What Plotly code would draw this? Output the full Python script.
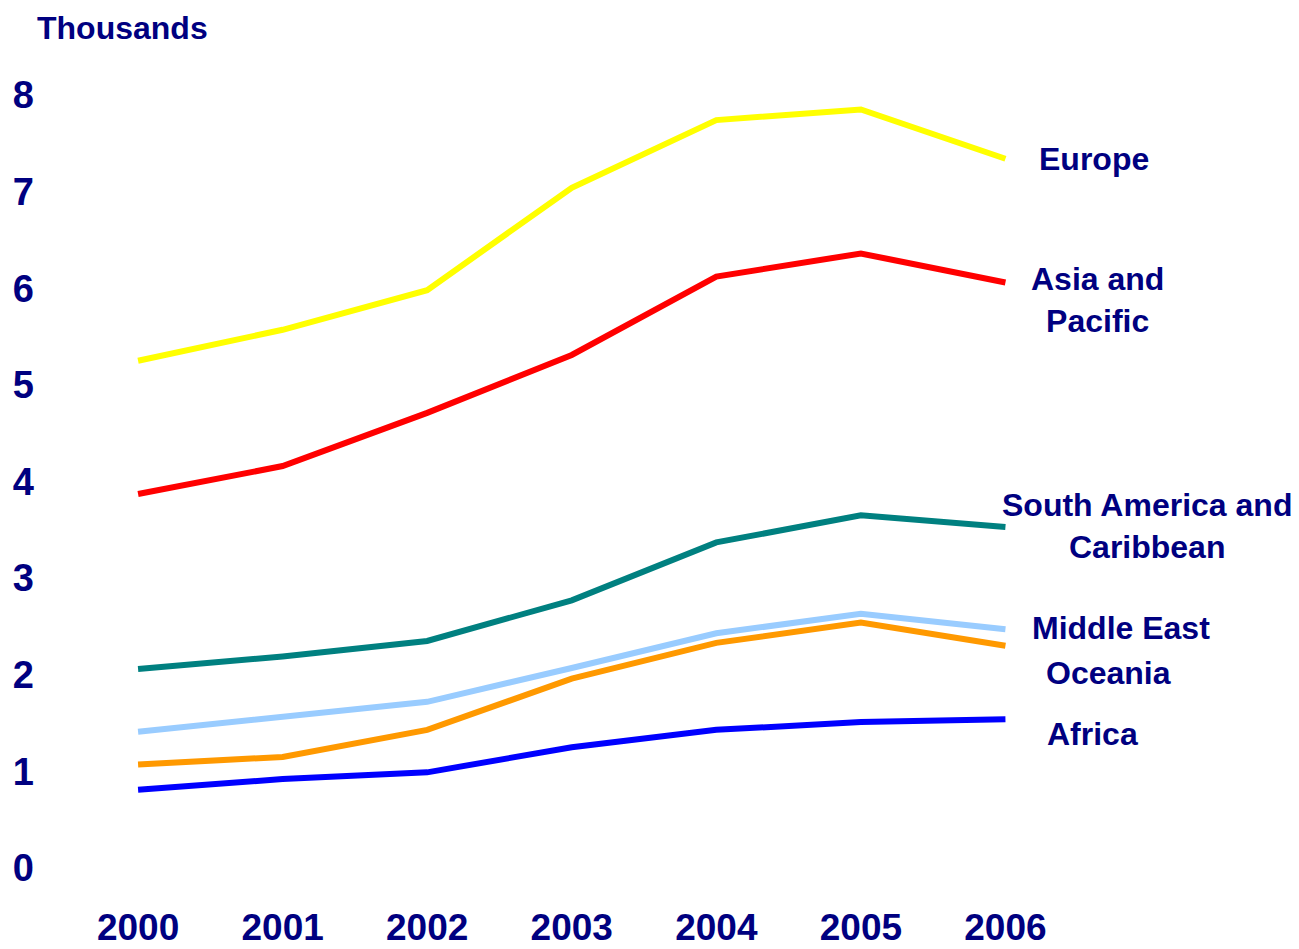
import plotly.graph_objects as go

years = [2000, 2001, 2002, 2003, 2004, 2005, 2006]
europe = [5.25, 5.57, 5.98, 7.04, 7.74, 7.85, 7.34]
asia_pacific = [3.87, 4.16, 4.71, 5.31, 6.12, 6.36, 6.06]
south_america = [2.06, 2.19, 2.35, 2.77, 3.37, 3.65, 3.53]
middle_east = [1.41, 1.56, 1.72, 2.07, 2.43, 2.63, 2.47]
oceania = [1.07, 1.15, 1.43, 1.96, 2.33, 2.54, 2.30]
africa = [0.81, 0.92, 0.99, 1.25, 1.43, 1.51, 1.54]

y_ticks = [0, 1, 2, 3, 4, 5, 6, 7, 8]

series = [
    ("Europe", europe, "#FFFF00", "Europe", 2006.61, 7.34),
    ("Asia and Pacific", asia_pacific, "#FF0000", "Asia and<br>Pacific", 2006.64, 5.88),
    ("South America and Caribbean", south_america, "#008080", "South America and<br>Caribbean", 2006.98, 3.54),
    ("Middle East", middle_east, "#99CCFF", "Middle East", 2006.80, 2.48),
    ("Oceania", oceania, "#FF9900", "Oceania", 2006.71, 2.02),
    ("Africa", africa, "#0000FF", "Africa", 2006.60, 1.39),
]

NAVY = "#000080"
FONT = "Liberation Sans, Arial, sans-serif"

# page body has an 8px margin; figure extends to the bottom of the window
W, H = 1283, 941
ml, mr, mt, mb = 52, 141, 58, 52
pw, ph = W - ml - mr, H - mt - mb

fig = go.Figure()
annotations = []
for name, vals, color, label, lx, ly in series:
    fig.add_trace(go.Scatter(x=years, y=vals, mode="lines", name=name,
                             line=dict(color=color, width=6)))
    annotations.append(dict(x=lx, y=ly, xref="x", yref="y", text=label,
                            showarrow=False, align="center",
                            font=dict(family=FONT, size=32, color=NAVY, weight="bold")))

annotations.append(dict(x=(27 - ml) / pw, y=(H - mb) / ph, xref="paper", yref="paper",
                        text="Thousands", showarrow=False, xanchor="left", yanchor="top",
                        font=dict(family=FONT, size=32, color=NAVY, weight="bold")))

fig.update_layout(
    width=W, height=H,
    margin=dict(l=ml, r=mr, t=mt, b=mb),
    plot_bgcolor="white", paper_bgcolor="white",
    showlegend=False,
    annotations=annotations,
    xaxis=dict(range=[1999.46, 2007.0], tickmode="array", tickvals=years,
               ticktext=[str(y) for y in years], showgrid=False, zeroline=False,
               showline=False, ticks="", ticklabelstandoff=5, automargin=False,
               tickfont=dict(family=FONT, size=37, color=NAVY, weight="bold")),
    yaxis=dict(range=[-0.3, 8.3], tickmode="array", tickvals=y_ticks,
               ticktext=[str(v) for v in y_ticks], showgrid=False, zeroline=False,
               showline=False, ticks="", ticklabelstandoff=25, automargin=False,
               tickfont=dict(family=FONT, size=38, color=NAVY, weight="bold")),
)

fig.write_html("out.html")
